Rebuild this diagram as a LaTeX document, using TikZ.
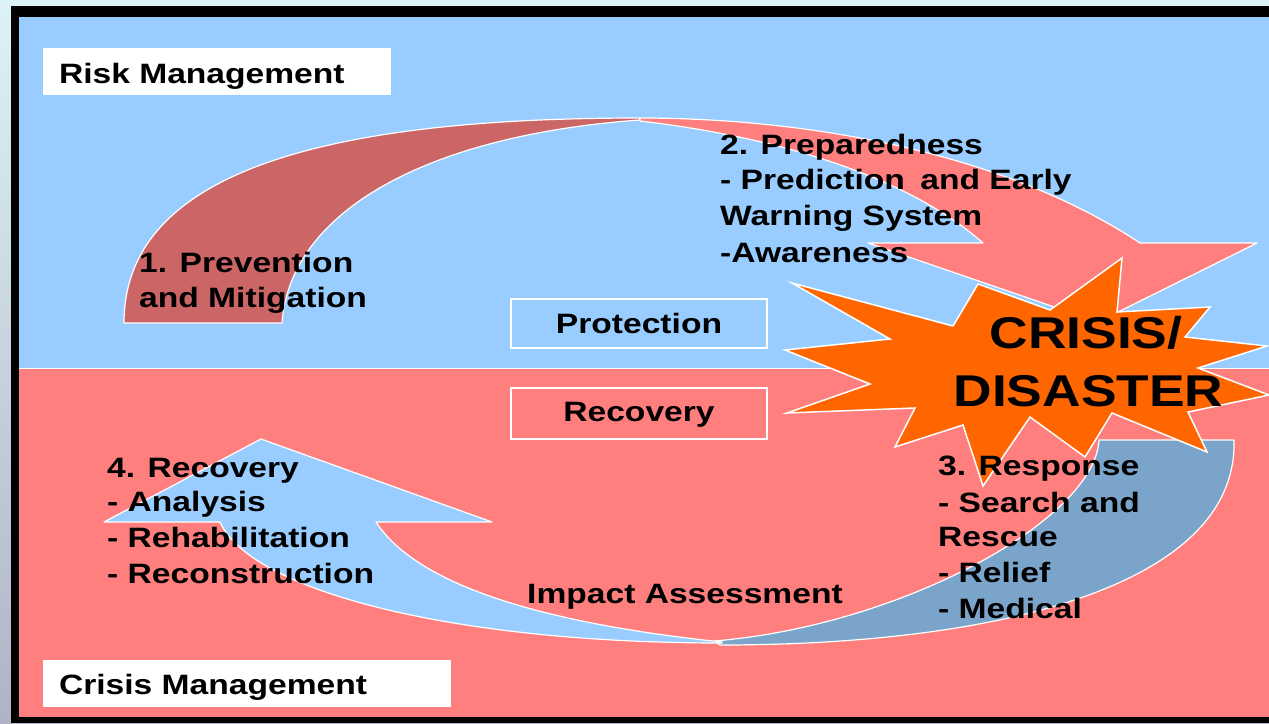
\documentclass[tikz,border=0pt]{standalone}
\usepackage{fontspec}
\newfontfamily\arialx{Liberation Sans}[FakeStretch=1.2]
\definecolor{skyb}{HTML}{99CCFF}
\definecolor{pinkr}{HTML}{FF7F7F}
\definecolor{darkr}{HTML}{CC6666}
\definecolor{steel}{HTML}{7AA4CA}
\definecolor{orng}{HTML}{FF6600}
\definecolor{bgtop}{HTML}{DDF2F6}
\definecolor{bgbot}{HTML}{B0B3C6}
\begin{document}
\begin{tikzpicture}[x=1pt,y=-1pt,
  txt/.style={inner sep=0pt, anchor=base west, text=black,
    font=\arialx\bfseries\fontsize{28}{34}\selectfont},
  namebox/.style={fill=white, inner xsep=16pt, inner ysep=0pt, align=left,
    text depth=0pt, font=\arialx\bfseries\fontsize{28}{34}\selectfont},
  phasebox/.style={draw=white, line width=1.5pt, inner sep=0pt, text depth=0pt,
    minimum width=256pt, font=\arialx\bfseries\fontsize{28}{34}\selectfont},
  arrowshape/.style={draw=white, line width=1.2pt, line join=round},
  bigtxt/.style={inner sep=0pt, anchor=base, text=black,
    font=\arialx\bfseries\fontsize{44.5}{50}\selectfont}]
\useasboundingbox (0,0) rectangle (1269,723);
% outside background
\fill[top color=bgtop, bottom color=bgbot] (0,0) rectangle (1269,723);
% frame and halves
\fill[black] (11,6) rectangle (1269,723);
\fill[skyb] (19,17) rectangle (1269,368);
\fill[pinkr] (19,369) rectangle (1269,717);
\draw[white, line width=1.2pt] (19,368.5) -- (1269,368.5);

% arrow 1 : prevention (dark red tail)
\filldraw[arrowshape, fill=darkr]
  (124,323) .. controls (124,170) and (330,118) .. (640,118)
  -- (640,120) .. controls (430,135) and (290,210) .. (282,323) -- cycle;
% arrow 2 : preparedness (pink head)
\filldraw[arrowshape, fill=pinkr]
  (640,118) .. controls (800,118) and (1000,150) .. (1140,243)
  -- (1257,243) -- (1098,322) -- (868,243) -- (983,243)
  .. controls (900,170) and (760,135) .. (640,121) -- cycle;
% arrow 3 : response (steel blue tail)
\filldraw[arrowshape, fill=steel]
  (1099,440) -- (1234,440) .. controls (1238,585) and (1000,645) .. (720,645)
  -- (714,641) .. controls (900,626) and (1095,520) .. (1099,440) -- cycle;
% arrow 4 : recovery (light blue head)
\filldraw[arrowshape, fill=skyb]
  (722,643) .. controls (450,643) and (250,590) .. (220,522)
  -- (104,522) -- (261,439) -- (492,522) -- (376,522)
  .. controls (420,590) and (560,625) .. (722,642) -- cycle;

% star
\filldraw[fill=orng, draw=white, line width=1.5pt, line join=miter]
  (792,283) -- (953,326) -- (978,284) -- (1050,310) -- (1122,258)
  -- (1117,312) -- (1210,307) -- (1185,337) -- (1267,346) -- (1198,368)
  -- (1269,395) -- (1188,412) -- (1207,452) -- (1112,413) -- (1085,457)
  -- (1030,417) -- (983,486) -- (963,425) -- (895,447) -- (915,408)
  -- (787,413) -- (870,384) -- (785,350) -- (890,339) -- cycle;
\node[bigtxt] (crisis) at (1086,348) {CRISIS/};
\node[bigtxt] (disaster) at (1088.5,406.5) {DISASTER};

% title boxes
\node[namebox, text width=316pt, minimum height=47.5pt, text height=23pt]
  (risk) at (217,71.5) {Risk Management};
\node[namebox, text width=376pt, minimum height=47pt, text height=21pt]
  (crisisman) at (247,683.5) {Crisis Management};
% phase boxes
\node[phasebox, minimum height=49pt, text height=19.6pt] (protection) at (639,323.5) {Protection};
\node[phasebox, minimum height=51pt, text height=16pt] (recoverybox) at (639,413.7) {Recovery};

% labels
\node[txt] (p1a) at (139,272) {1. Prevention};
\node[txt] (p1b) at (139,307) {and Mitigation};
\node[txt] (p2a) at (720,154) {2. Preparedness};
\node[txt] (p2b) at (720,189) {- Prediction\hspace{6pt} and Early};
\node[txt] (p2c) at (720,225) {Warning System};
\node[txt] (p2d) at (720,262) {-Awareness};
\node[txt] (p3a) at (938,475) {3. Response};
\node[txt] (p3b) at (938,512) {- Search and};
\node[txt] (p3c) at (938,546) {Rescue};
\node[txt] (p3d) at (938,582) {- Relief};
\node[txt] (p3e) at (938,618) {- Medical};
\node[txt] (p4a) at (107,477) {4. Recovery};
\node[txt] (p4b) at (107,511) {- Analysis};
\node[txt] (p4c) at (107,547) {- Rehabilitation};
\node[txt] (p4d) at (107,583) {- Reconstruction};
\node[txt] (impact) at (527,603) {Impact Assessment};
\end{tikzpicture}
\end{document}
